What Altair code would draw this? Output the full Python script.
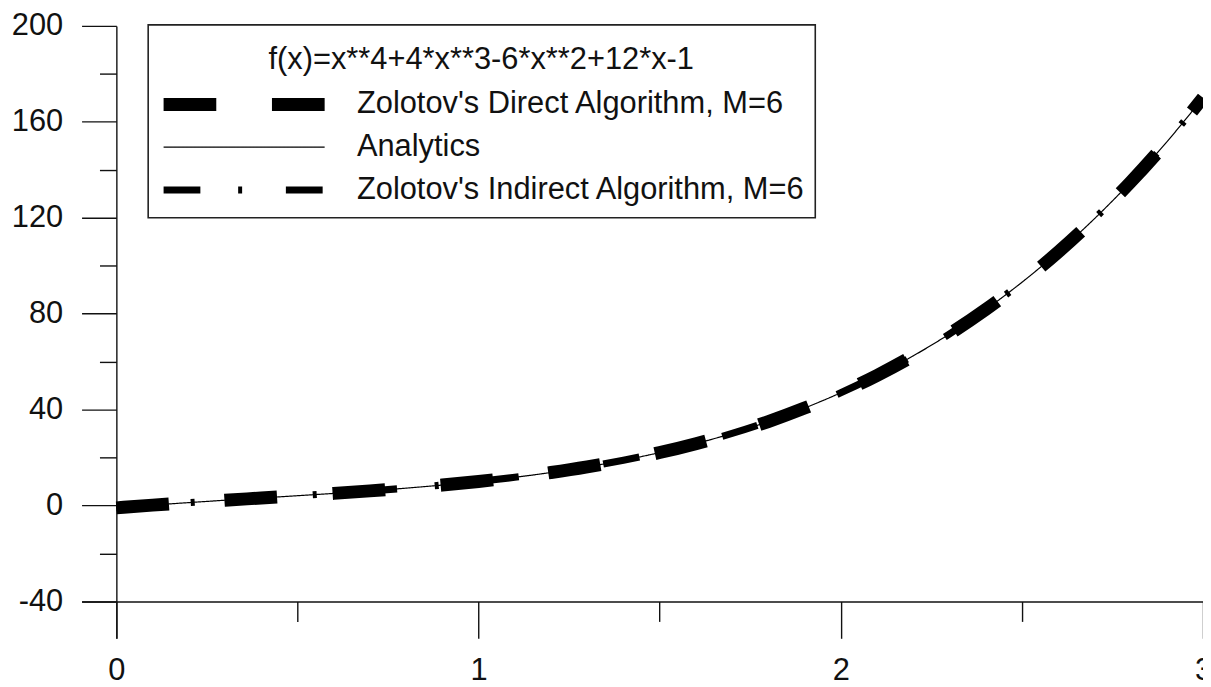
import altair as alt
import pandas as pd

# ---- data ----
x_values = [0.0, 0.1, 0.2, 0.3, 0.4, 0.5, 0.6, 0.7, 0.8, 0.9, 1.0,
            1.1, 1.2, 1.3, 1.4, 1.5, 1.6, 1.7, 1.8, 1.9, 2.0,
            2.1, 2.2, 2.3, 2.4, 2.5, 2.6, 2.7, 2.8, 2.9, 3.0]
y_analytics = [-1.0, 0.14, 1.19, 2.18, 3.12, 4.06, 5.03, 6.07, 7.22, 8.51, 10.0,
               11.73, 13.75, 16.1, 18.86, 22.06, 25.78, 30.06, 34.99, 40.61, 47.0,
               54.23, 62.38, 71.51, 81.71, 93.06, 105.64, 119.54, 134.83, 151.62, 170.0]
y_direct = [-1.0, 0.14, 1.19, 2.18, 3.12, 4.06, 5.03, 6.07, 7.22, 8.51, 10.0,
            11.73, 13.75, 16.1, 18.86, 22.06, 25.78, 30.06, 34.99, 40.61, 47.0,
            54.23, 62.38, 71.51, 81.71, 93.06, 105.64, 119.54, 134.83, 151.62, 170.0]
y_indirect = [-1.0, 0.14, 1.19, 2.18, 3.12, 4.06, 5.03, 6.07, 7.22, 8.51, 10.0,
              11.73, 13.75, 16.1, 18.86, 22.06, 25.78, 30.06, 34.99, 40.61, 47.0,
              54.23, 62.38, 71.51, 81.71, 93.06, 105.64, 119.54, 134.83, 151.62, 170.0]

name_direct = "Zolotov's Direct Algorithm, M=6"
name_analytics = "Analytics"
name_indirect = "Zolotov's Indirect Algorithm, M=6"
legend_order = [name_direct, name_analytics, name_indirect]
legend_title = "f(x)=x**4+4*x**3-6*x**2+12*x-1"
x_ticks = [0, 0.5, 1, 1.5, 2, 2.5, 3]
y_ticks = [-40, -20, 0, 20, 40, 60, 80, 100, 120, 140, 160, 180, 200]

rows = []
for name, ys in zip([name_direct, name_analytics, name_indirect],
                    [y_direct, y_analytics, y_indirect]):
    for xv, yv in zip(x_values, ys):
        rows.append({"x": xv, "y": yv, "series": name})
df = pd.DataFrame(rows)

FONT = "Liberation Sans"

# scale domain ordered thin -> thick (point scale for stroke width)
scale_domain = [name_analytics, name_indirect, name_direct]

legend = alt.Legend(
    title=[" ", legend_title],
    titleLineHeight=11,
    values=legend_order,
    orient="none",
    legendX=67,
    legendY=-1,
    symbolType="stroke",
    symbolSize=162 * 162,
    symbolStrokeColor="black",
    clipHeight=38,
    labelOffset=26,
    labelFont=FONT,
    labelFontSize=31,
    labelColor="#111111",
    labelLimit=1000,
    titleFont=FONT,
    titleFontSize=31,
    titleFontWeight="normal",
    titleColor="#111111",
    titleAnchor="middle",
    titleLimit=1000,
    titlePadding=10,
    rowPadding=5,
    padding=9,
    strokeColor="#222222",
    fillColor="white",
)

chart = alt.Chart(df).mark_line(
    color="black", interpolate="monotone", strokeCap="butt"
).encode(
    x=alt.X(
        "x:Q",
        scale=alt.Scale(domain=[-0.096, 3], nice=False, zero=False),
        axis=alt.Axis(
            values=x_ticks,
            title=None,
            offset=-37,
            grid=False,
            labelExpr="datum.value % 1 === 0 ? '' + datum.value : ''",
            tickSize={"condition": {"test": "datum.value % 1 === 0", "value": 37}, "value": 20},
            labelPadding=17,
            labelFontSize=31,
            labelFont=FONT,
            labelColor="#111111",
            labelFlush=False,
            labelOverlap=False,
        ),
    ),
    y=alt.Y(
        "y:Q",
        scale=alt.Scale(domain=[-55.4, 200], nice=False, zero=False),
        axis=alt.Axis(
            values=y_ticks,
            title=None,
            offset=-35,
            grid=False,
            labelExpr="datum.value % 40 === 0 ? '' + datum.value : ''",
            tickSize={"condition": {"test": "datum.value % 40 === 0", "value": 35}, "value": 17},
            labelPadding=19,
            labelFontSize=31,
            labelFont=FONT,
            labelColor="#111111",
            labelFlush=False,
            labelOverlap=False,
        ),
    ),
    strokeDash=alt.StrokeDash(
        "series:N",
        scale=alt.Scale(domain=scale_domain, range=[[1, 0], [37, 38, 4, 44], [53, 56]]),
        legend=legend,
    ),
    strokeWidth=alt.StrokeWidth(
        "series:N",
        scale=alt.Scale(domain=scale_domain, range=[1.2, 13]),
        legend=legend,
    ),
).properties(
    width=1128,
    height=616,
    autosize=alt.AutoSizeParams(type="none"),
    padding={"left": 74, "top": 16, "right": 0, "bottom": 47},
).configure_view(
    stroke=None
).configure_axis(
    domainColor="#111111",
    domainWidth=1.4,
    tickColor="#111111",
    tickWidth=1.4,
).configure_legend(
    strokeWidth=1.6
)

chart.save("out.html", embed_options={"renderer": "svg", "actions": False})
